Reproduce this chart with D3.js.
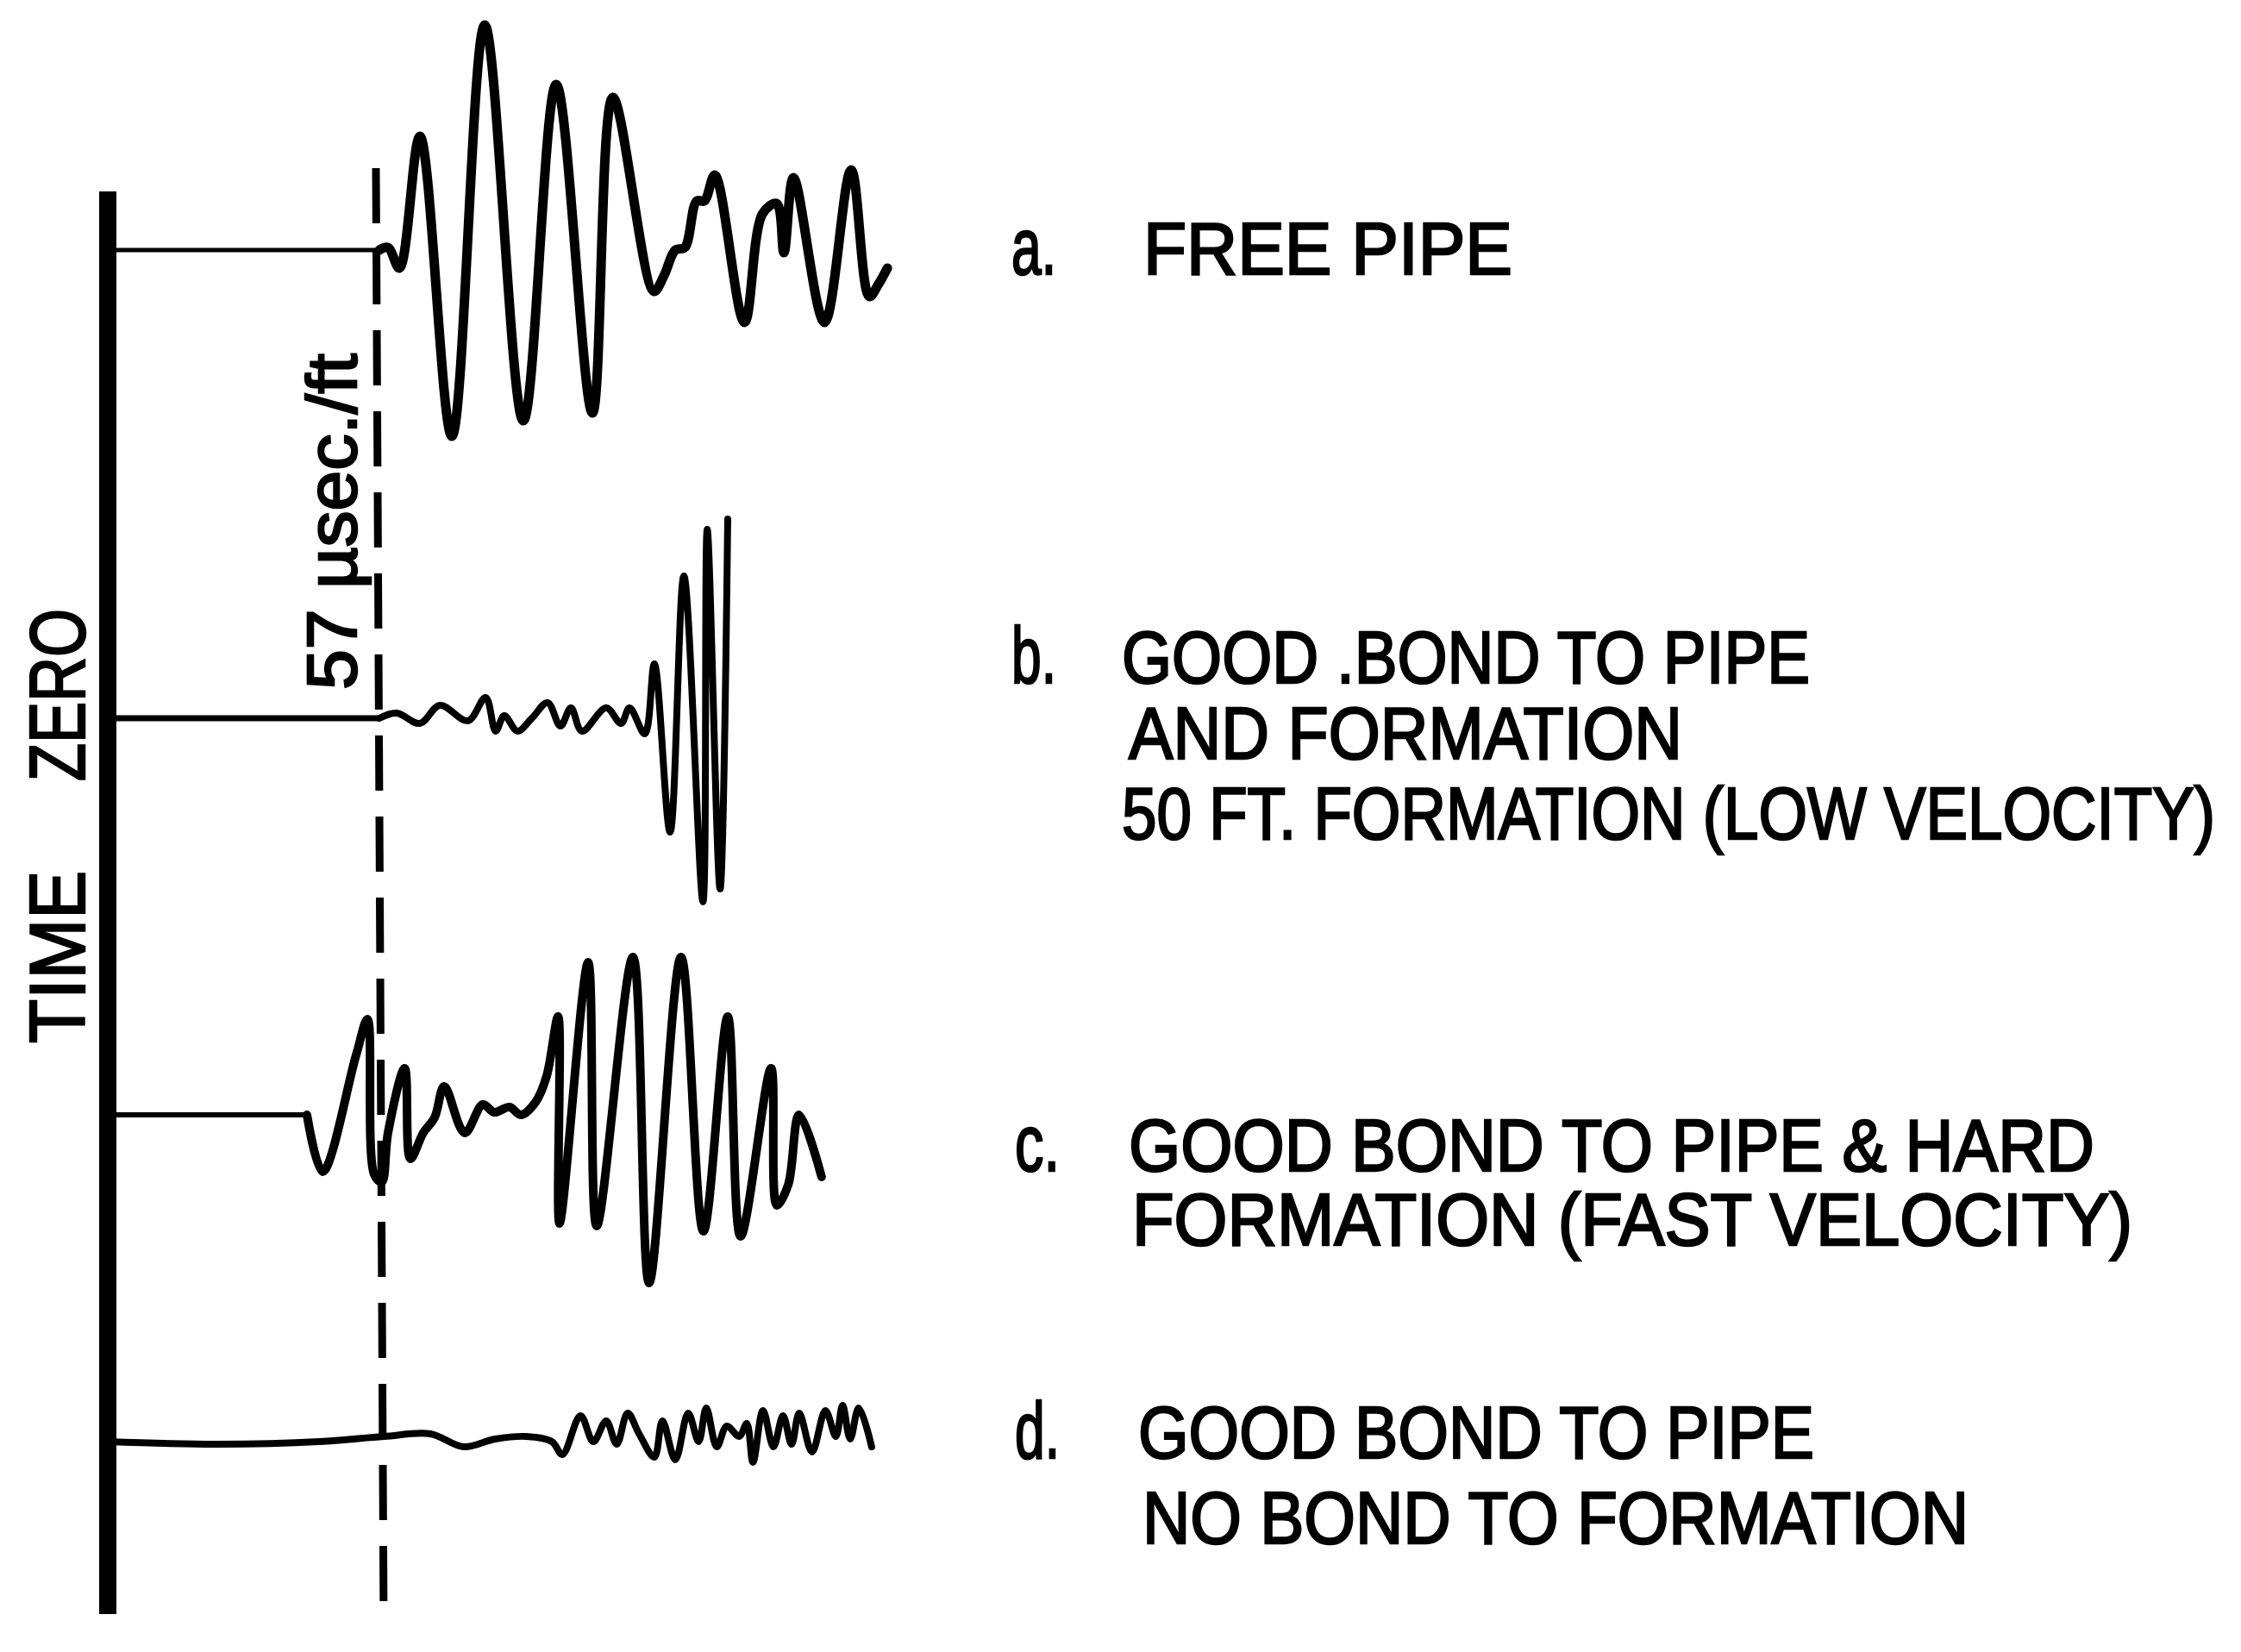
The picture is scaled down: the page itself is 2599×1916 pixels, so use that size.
<!DOCTYPE html>
<html>
<head>
<meta charset="utf-8">
<script src="https://cdn.jsdelivr.net/npm/d3@7"></script>
<style>
  body { margin: 0; background: #fff; }
  svg { display: block; background: #fff; }
  text { font-family: "Liberation Sans", Arial, sans-serif; fill: #000; stroke: #000; stroke-width: 2.5; }
</style>
</head>
<body>
<div id="chart"></div>
<script>
/* DATA: time after time zero (µs) and relative amplitude, one pair per trace */
const traceIds = ["a", "b", "c", "d"];

const timeA = [0, 57.0, 58.8, 61.2, 65.5, 72.2, 79.1, 87.2, 94.1, 101.7, 106.0, 114.6, 116.7, 119.1, 121.1, 123.6, 125.2, 127.4, 133.6, 137.4, 140.4, 141.9, 143.9, 150.4, 156.0, 159.8, 161.8, 163.6];
const ampA  = [0, 0, 1, -7, 44, -72, 87, -66, 64, -63, 59, -16, -10, 0, 1, 19, 19, 29, -28, 14, 18, -1, 28, -28, 31, -18, -13, -7];

const timeB = [0, 57.0, 60.6, 65.5, 69.7, 75.6, 79.3, 81.4, 83.2, 86.0, 89.0, 92.3, 95.0, 97.2, 99.5, 104.6, 107.7, 109.5, 112.7, 114.7, 118.0, 120.9, 124.9, 125.8, 128.5, 130.1];
const ampB  = [0, 0, 2, -2, 5, -1, 8, -5, 1, -5, 0, 6, -3, 4, -5, 4, -2, 4, -6, 21, -44, 55, -71, 73, -66, 77];

const timeC = [0, 41.8, 45.1, 52.1, 54.5, 55.9, 57.5, 58.8, 62.3, 63.5, 66.2, 68.6, 70.6, 74.9, 78.7, 81.1, 84.3, 86.7, 89.8, 92.1, 94.5, 94.8, 100.8, 102.6, 110.2, 113.6, 120.3, 125.0, 130.1, 132.8, 139.2, 140.4, 142.8, 145.1, 149.8];
const ampC  = [0, 0, -22, 23, 37, -23, -26, -7, 18, -17, -7, -1, 11, -7, 4, 1, 3, 0, 5, 15, 38, -42, 59, -43, 61, -65, 61, -45, 38, -47, 18, -35, -27, 0, -24];

const timeD = [0, 22.6, 44.3, 57.9, 67.7, 74.7, 81.3, 87.8, 93.2, 95.4, 99.2, 101.9, 104.6, 106.8, 109.1, 111.5, 114.7, 116.4, 119.1, 121.8, 124.0, 125.6, 127.8, 129.9, 132.5, 134.1, 135.4, 137.5, 139.7, 141.7, 143.5, 145.1, 147.8, 150.6, 152.8, 154.2, 155.8, 157.6, 160.3];
const ampD  = [0, -1, 0, 2, 3, -2, 1, 2, 0, -5, 10, 0, 8, -1, 11, 3, -6, 8, -7, 11, 0, 13, -2, 6, 2, 7, -8, 12, -2, 10, -1, 11, -4, 12, 2, 14, 1, 13, -2];

const markerTime = 57; // µsec./ft reference line

const labelPrefixes = ["a.", "b.", "c.", "d."];
const labelsA = ["FREE PIPE"];
const labelsB = ["GOOD .BOND TO PIPE", "AND FORMATION", "50 FT. FORMATION (LOW VELOCITY)"];
const labelsC = ["GOOD BOND TO PIPE & HARD", "FORMATION (FAST VELOCITY)"];
const labelsD = ["GOOD BOND TO PIPE", "NO BOND TO FORMATION"];

/* LAYOUT */
const width = 2599, height = 1916;
const series = [
  {id: "a", t: timeA, v: ampA, lines: labelsA},
  {id: "b", t: timeB, v: ampB, lines: labelsB},
  {id: "c", t: timeC, v: ampC, lines: labelsC},
  {id: "d", t: timeD, v: ampD, lines: labelsD}
];
const leadPts = {a: 2, b: 2, c: 2, d: 0}; // thin leader from time zero, then the wave
const leadWidth = {a: 5, b: 7, c: 6, d: 8};
const waveWidth = {a: 11, b: 8, c: 10, d: 8};
// text placement for each label line: [x, baseline, length]
const lineBoxes = {
  a: [[1326, 318, 428]],
  b: [[1301, 792, 798], [1309, 880, 642], [1301, 973, 1268]],
  c: [[1309, 1358, 1120], [1313, 1444, 1160]],
  d: [[1320, 1691, 784], [1325, 1790, 958]]
};
const prefixBox = {a: [1173, 318], b: [1173, 792], c: [1177, 1358], d: [1177, 1691]};

const svg = d3.select("#chart").append("svg")
  .attr("width", width)
  .attr("height", height);

const x = d3.scaleLinear().domain([0, markerTime]).range([125, 440]);
const amp = d3.scaleLinear().domain([-1, 1]).range([3, -3]);
const baseY = d3.scaleOrdinal().domain(traceIds).range([290, 833, 1293, 1672]);

const line = d3.line()
  .x(d => x(d.t))
  .y(d => baseY(d.id) + amp(d.v))
  .curve(d3.curveCatmullRom.alpha(0.5));
const straight = d3.line()
  .x(d => x(d.t))
  .y(d => baseY(d.id) + amp(d.v));

// time zero bar
svg.append("line")
  .attr("x1", x(0)).attr("x2", x(0))
  .attr("y1", 222).attr("y2", 1872)
  .attr("stroke", "#000").attr("stroke-width", 20);

// dashed 57 µsec/ft line
svg.append("line")
  .attr("x1", x(markerTime) - 4).attr("x2", x(markerTime) + 5)
  .attr("y1", 195).attr("y2", 1885)
  .attr("stroke", "#000").attr("stroke-width", 9)
  .attr("stroke-dasharray", "64 30");

// traces
series.forEach(s => {
  const pts = s.t.map((t, i) => ({id: s.id, t: t, v: s.v[i]}));
  const n = leadPts[s.id];
  if (n > 1) {
    svg.append("path")
      .attr("d", straight(pts.slice(0, n)))
      .attr("fill", "none").attr("stroke", "#000")
      .attr("stroke-width", leadWidth[s.id]);
  }
  svg.append("path")
    .attr("d", line(pts.slice(Math.max(n - 1, 0))))
    .attr("fill", "none").attr("stroke", "#000")
    .attr("stroke-width", waveWidth[s.id])
    .attr("stroke-linejoin", "round").attr("stroke-linecap", "round");
});

// labels
series.forEach((s, i) => {
  svg.append("text")
    .attr("x", prefixBox[s.id][0]).attr("y", prefixBox[s.id][1])
    .attr("font-size", 92)
    .attr("textLength", 52).attr("lengthAdjust", "spacingAndGlyphs")
    .text(labelPrefixes[i]);
  s.lines.forEach((txt, j) => {
    const box = lineBoxes[s.id][j];
    svg.append("text")
      .attr("x", box[0]).attr("y", box[1])
      .attr("font-size", 86)
      .attr("textLength", box[2])
      .attr("lengthAdjust", "spacingAndGlyphs")
      .text(txt);
  });
});

// rotated titles
svg.append("text")
  .attr("transform", "translate(98,806) rotate(-90)")
  .attr("text-anchor", "middle")
  .attr("font-size", 91)
  .attr("textLength", 200).attr("lengthAdjust", "spacingAndGlyphs")
  .text("ZERO");
svg.append("text")
  .attr("transform", "translate(98,1110) rotate(-90)")
  .attr("text-anchor", "middle")
  .attr("font-size", 91)
  .attr("textLength", 200).attr("lengthAdjust", "spacingAndGlyphs")
  .text("TIME");
svg.append("text")
  .attr("transform", "translate(413,605) rotate(-90)")
  .attr("text-anchor", "middle")
  .attr("font-size", 81)
  .attr("textLength", 390).attr("lengthAdjust", "spacingAndGlyphs")
  .text("57 µsec./ft");
</script>
</body>
</html>
